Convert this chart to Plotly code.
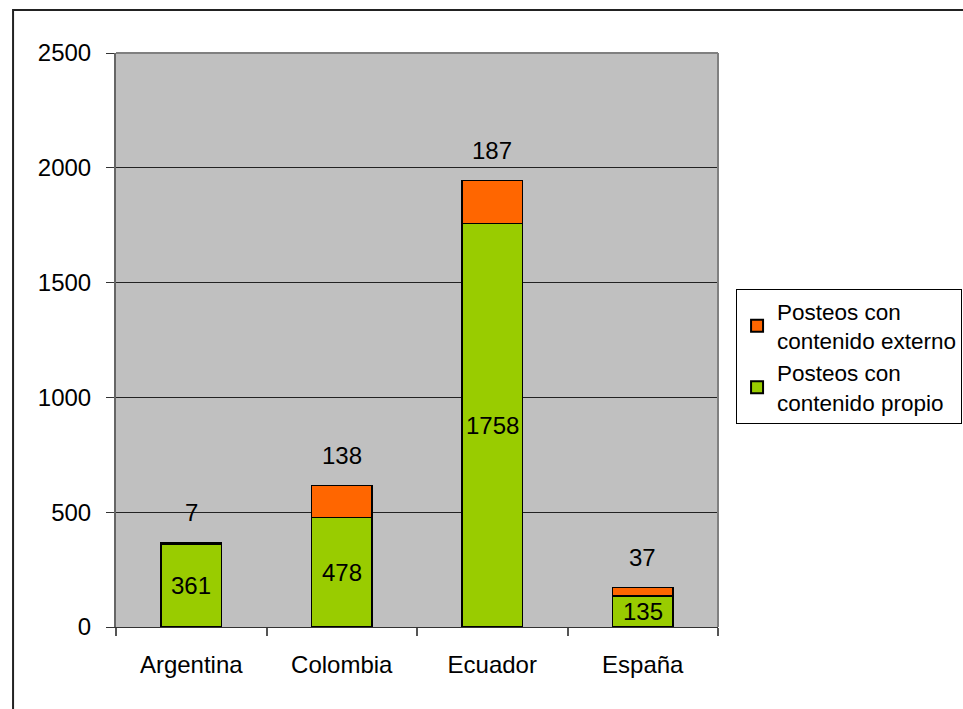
import plotly.graph_objects as go

paises = ["Argentina", "Colombia", "Ecuador", "España"]
contenido_propio = [361, 478, 1758, 135]
contenido_externo = [7, 138, 187, 37]
y_ticks = [0, 500, 1000, 1500, 2000, 2500]

FONT = "Liberation Sans, Arial, sans-serif"
VERDE = "#99CC00"
NARANJA = "#FF6600"

fig = go.Figure()
fig.add_trace(go.Bar(
    x=paises, y=contenido_propio, name="Posteos con<br>contenido propio",
    marker=dict(color=VERDE, line=dict(color="black", width=1.5)),
    legendrank=2,
))
fig.add_trace(go.Bar(
    x=paises, y=contenido_externo, name="Posteos con<br>contenido externo",
    marker=dict(color=NARANJA, line=dict(color="black", width=1.5)),
    legendrank=1,
))

# value labels: own content centred in its segment, external content above the stack
for p, a, b in zip(paises, contenido_propio, contenido_externo):
    fig.add_annotation(x=p, y=a / 2, text=str(a), showarrow=False,
                       font=dict(size=24, color="black", family=FONT))
    fig.add_annotation(x=p, y=a + b, text=str(b), showarrow=False, yshift=30,
                       font=dict(size=24, color="black", family=FONT))

# outer chart frame
fig.add_shape(type="rect", xref="paper", yref="paper",
              x0=-0.171, x1=1.5, y0=-0.3, y1=1.0749,
              line=dict(color="#222222", width=2), layer="below")

fig.update_layout(
    width=963, height=709,
    margin=dict(l=116, r=245, t=53, b=82, autoexpand=False),
    barmode="stack", bargap=0.595,
    paper_bgcolor="white", plot_bgcolor="#C0C0C0",
    font=dict(family=FONT, size=24, color="black"),
    showlegend=True,
    legend=dict(x=1.03, y=0.589, xanchor="left", yanchor="top",
                bordercolor="black", borderwidth=1, bgcolor="white",
                font=dict(size=22.5, family=FONT),
                traceorder="normal", tracegroupgap=10, itemsizing="constant"),
)
fig.update_xaxes(
    showline=True, linecolor="#333333", linewidth=1,
    ticks="outside", tickson="boundaries", ticklen=8, tickcolor="#555555",
    tickwidth=2, mirror=False, tickfont=dict(size=24), ticklabelstandoff=16,
)
fig.update_yaxes(
    range=[0, 2500], tickvals=y_ticks, showgrid=True, gridcolor="#222222",
    gridwidth=1, showline=True, linecolor="#666666", linewidth=2,
    ticks="outside", ticklen=8, tickcolor="#333333", tickwidth=1,
    tickfont=dict(size=24), zeroline=False, ticklabelstandoff=10,
)
# plot area border on top and right
fig.add_shape(type="line", xref="paper", yref="paper", x0=0, x1=1, y0=1, y1=1,
              line=dict(color="#808080", width=2))
fig.add_shape(type="line", xref="paper", yref="paper", x0=1, x1=1, y0=0, y1=1,
              line=dict(color="#808080", width=2))

fig.write_html("out.html")
